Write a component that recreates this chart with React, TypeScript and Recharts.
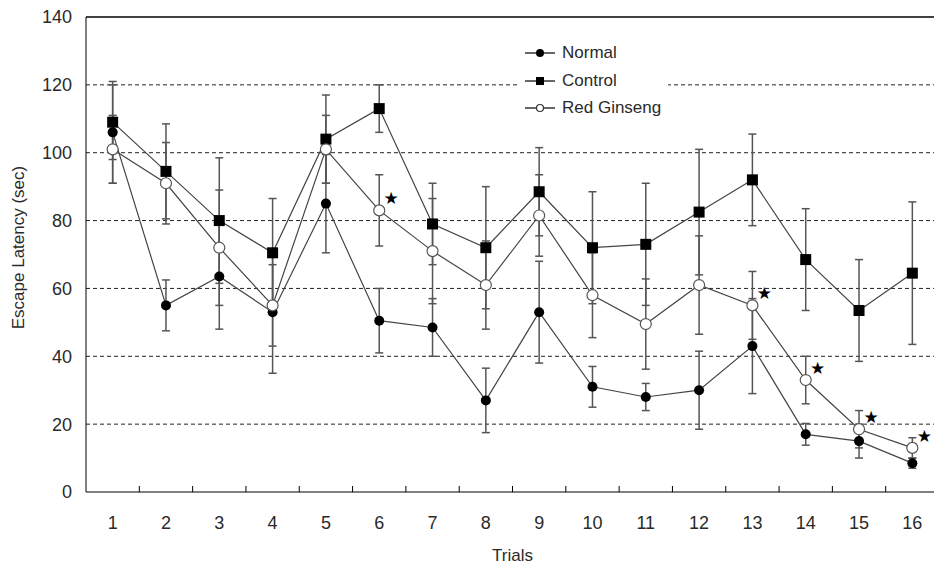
import { CartesianGrid, ErrorBar, LabelList, Legend, Line, LineChart, ReferenceLine, XAxis, YAxis } from "recharts";

const trials = [1, 2, 3, 4, 5, 6, 7, 8, 9, 10, 11, 12, 13, 14, 15, 16];

const normal = [106, 55, 63.5, 53, 85, 50.5, 48.5, 27, 53, 31, 28, 30, 43, 17, 15, 8.5];
const normalErr = [15, 7.5, 15.5, 18, 14.5, 9.5, 8.5, 9.5, 15, 6, 4, 11.5, 14, 3.2, 5, 1.5];

const control = [109, 94.5, 80, 70.5, 104, 113, 79, 72, 88.5, 72, 73, 82.5, 92, 68.5, 53.5, 64.5];
const controlErr = [11, 14, 18.5, 16, 13, 7, 12, 18, 13, 16.5, 18, 18.5, 13.5, 15, 15, 21];

const redGinseng = [101, 91, 72, 55, 101, 83, 71, 61, 81.5, 58, 49.5, 61, 55, 33, 18.5, 13];
const redGinsengErr = [10, 12, 17, 12, 10, 10.5, 15.5, 13, 12, 12.5, 13.3, 14.5, 10, 7, 5.5, 3];

// trials where Red Ginseng differs significantly from Control
const significantTrials = [6, 13, 14, 15, 16];

const yTicks = [0, 20, 40, 60, 80, 100, 120, 140];
const gridTicks = [20, 40, 60, 80, 100, 120];

const data = trials.map((t, i) => ({
    trial: t,
    normal: normal[i],
    normalErr: normalErr[i],
    control: control[i],
    controlErr: controlErr[i],
    redGinseng: redGinseng[i],
    redGinsengErr: redGinsengErr[i],
    star: significantTrials.includes(t) ? "★" : "",
}));

const W = 950;
const H = 568;
const MARGIN = { top: 17, right: 11, left: 4, bottom: 26 };
const Y_AXIS_W = 82;
const PLOT_W = W - MARGIN.left - MARGIN.right - Y_AXIS_W;
const HALF_BAND = PLOT_W / trials.length / 2;
const TICK_SIZE = 6;
const TICK_MARGIN = 2;

const FONT = "'Liberation Sans', Arial, sans-serif";
const TEXT = "#2a2a2a";
const BAR = "#555";
const LINE = "#444";

const NormalDot = (p: any) => <circle key={p.index} cx={p.cx} cy={p.cy} r={5} fill="#000" />;
const ControlDot = (p: any) => <rect key={p.index} x={p.cx - 5.5} y={p.cy - 5.5} width={11} height={11} fill="#000" />;
const GinsengDot = (p: any) => <circle key={p.index} cx={p.cx} cy={p.cy} r={5.5} fill="#fff" stroke="#555" strokeWidth={1.2} />;

const TrialTick = (p: any) => {
    const axisY = p.y - TICK_SIZE - TICK_MARGIN;
    return (
        <g>
            {p.index > 0 && <line x1={p.x - HALF_BAND} x2={p.x - HALF_BAND} y1={axisY} y2={axisY - 6} stroke="#000" />}
            <text x={p.x} y={axisY + 37} textAnchor="middle" fontSize={18} fontFamily={FONT} fill={TEXT}>
                {p.payload.value}
            </text>
        </g>
    );
};

const legendItems = [
    { name: "Normal", marker: <circle cx={15} cy={6} r={4} fill="#000" /> },
    { name: "Control", marker: <rect x={11} y={2} width={8} height={8} fill="#000" /> },
    { name: "Red Ginseng", marker: <circle cx={15} cy={6} r={3.5} fill="#fff" stroke="#333" strokeWidth={1.2} /> },
];

const LegendBox = () => (
    <div style={{ background: "#fff", width: 151, height: 85, position: "relative", fontFamily: FONT }}>
        {legendItems.map((item, i) => (
            <div key={item.name} style={{ position: "absolute", left: 8, top: 5 + i * 27.5, display: "flex", alignItems: "center", height: 20 }}>
                <svg width={31} height={12}>
                    <line x1={0} x2={30} y1={6} y2={6} stroke="#000" strokeWidth={1.2} />
                    {item.marker}
                </svg>
                <span style={{ marginLeft: 6, fontSize: 17, color: TEXT, whiteSpace: "nowrap" }}>{item.name}</span>
            </div>
        ))}
    </div>
);

const Star = (p: any) =>
    p.value ? (
        <text x={p.x + 12} y={p.y - 6} textAnchor="middle" fontSize={17} fill="#000" fontFamily="DejaVu Sans">
            {p.value}
        </text>
    ) : null;

export default function App() {
    return (
        <div style={{ position: "fixed", left: 0, top: 0, width: 934, height: 568, overflow: "hidden", background: "#fff" }}>
            <LineChart width={W} height={H} data={data} margin={MARGIN}>
                {gridTicks.map((v) => (
                    <ReferenceLine key={v} y={v} stroke="#222" strokeDasharray="4 3" />
                ))}
                {/* solid frame along the top of the plot */}
                <ReferenceLine y={140} stroke="#000" strokeWidth={1.3} ifOverflow="visible" />
                <XAxis
                    dataKey="trial"
                    type="number"
                    domain={[0.5, 16.5]}
                    ticks={trials}
                    interval={0}
                    tickLine={false}
                    tickSize={TICK_SIZE}
                    tickMargin={TICK_MARGIN}
                    tick={<TrialTick />}
                    axisLine={{ stroke: "#000" }}
                    height={50}
                    label={{
                        content: (p: any) => (
                            <text x={p.viewBox.x + p.viewBox.width / 2} y={561} textAnchor="middle" fontSize={17} fontFamily={FONT} fill={TEXT}>
                                Trials
                            </text>
                        ),
                    }}
                />
                <YAxis
                    type="number"
                    domain={[0, 140]}
                    allowDataOverflow
                    ticks={yTicks}
                    interval={0}
                    width={Y_AXIS_W}
                    tickLine={false}
                    tickSize={0}
                    tickMargin={14}
                    axisLine={{ stroke: "#000" }}
                    tick={{ fontSize: 18, fontFamily: FONT, fill: TEXT }}
                    label={{
                        content: (p: any) => {
                            const cx = 18;
                            const cy = p.viewBox.y + p.viewBox.height / 2 - 7;
                            return (
                                <text x={cx} y={cy} transform={`rotate(-90 ${cx} ${cy})`} textAnchor="middle" dominantBaseline="central" fontSize={17} fontFamily={FONT} fill={TEXT}>
                                    Escape Latency (sec)
                                </text>
                            );
                        },
                    }}
                />
                <Legend
                    layout="vertical"
                    verticalAlign="middle"
                    align="center"
                    content={<LegendBox />}
                    wrapperStyle={{ left: 517, top: 38, width: 151, height: 85 }}
                />
                <Line dataKey="normal" name="Normal" stroke={LINE} strokeWidth={1.2} dot={NormalDot} isAnimationActive={false}>
                    <ErrorBar dataKey="normalErr" direction="y" width={4} stroke={BAR} strokeWidth={1.5} />
                </Line>
                <Line dataKey="control" name="Control" stroke={LINE} strokeWidth={1.2} dot={ControlDot} isAnimationActive={false}>
                    <ErrorBar dataKey="controlErr" direction="y" width={4} stroke={BAR} strokeWidth={1.5} />
                </Line>
                <Line dataKey="redGinseng" name="Red Ginseng" stroke={LINE} strokeWidth={1.2} dot={GinsengDot} isAnimationActive={false}>
                    <ErrorBar dataKey="redGinsengErr" direction="y" width={4} stroke={BAR} strokeWidth={1.5} />
                    <LabelList dataKey="star" content={Star} />
                </Line>
            </LineChart>
        </div>
    );
}
